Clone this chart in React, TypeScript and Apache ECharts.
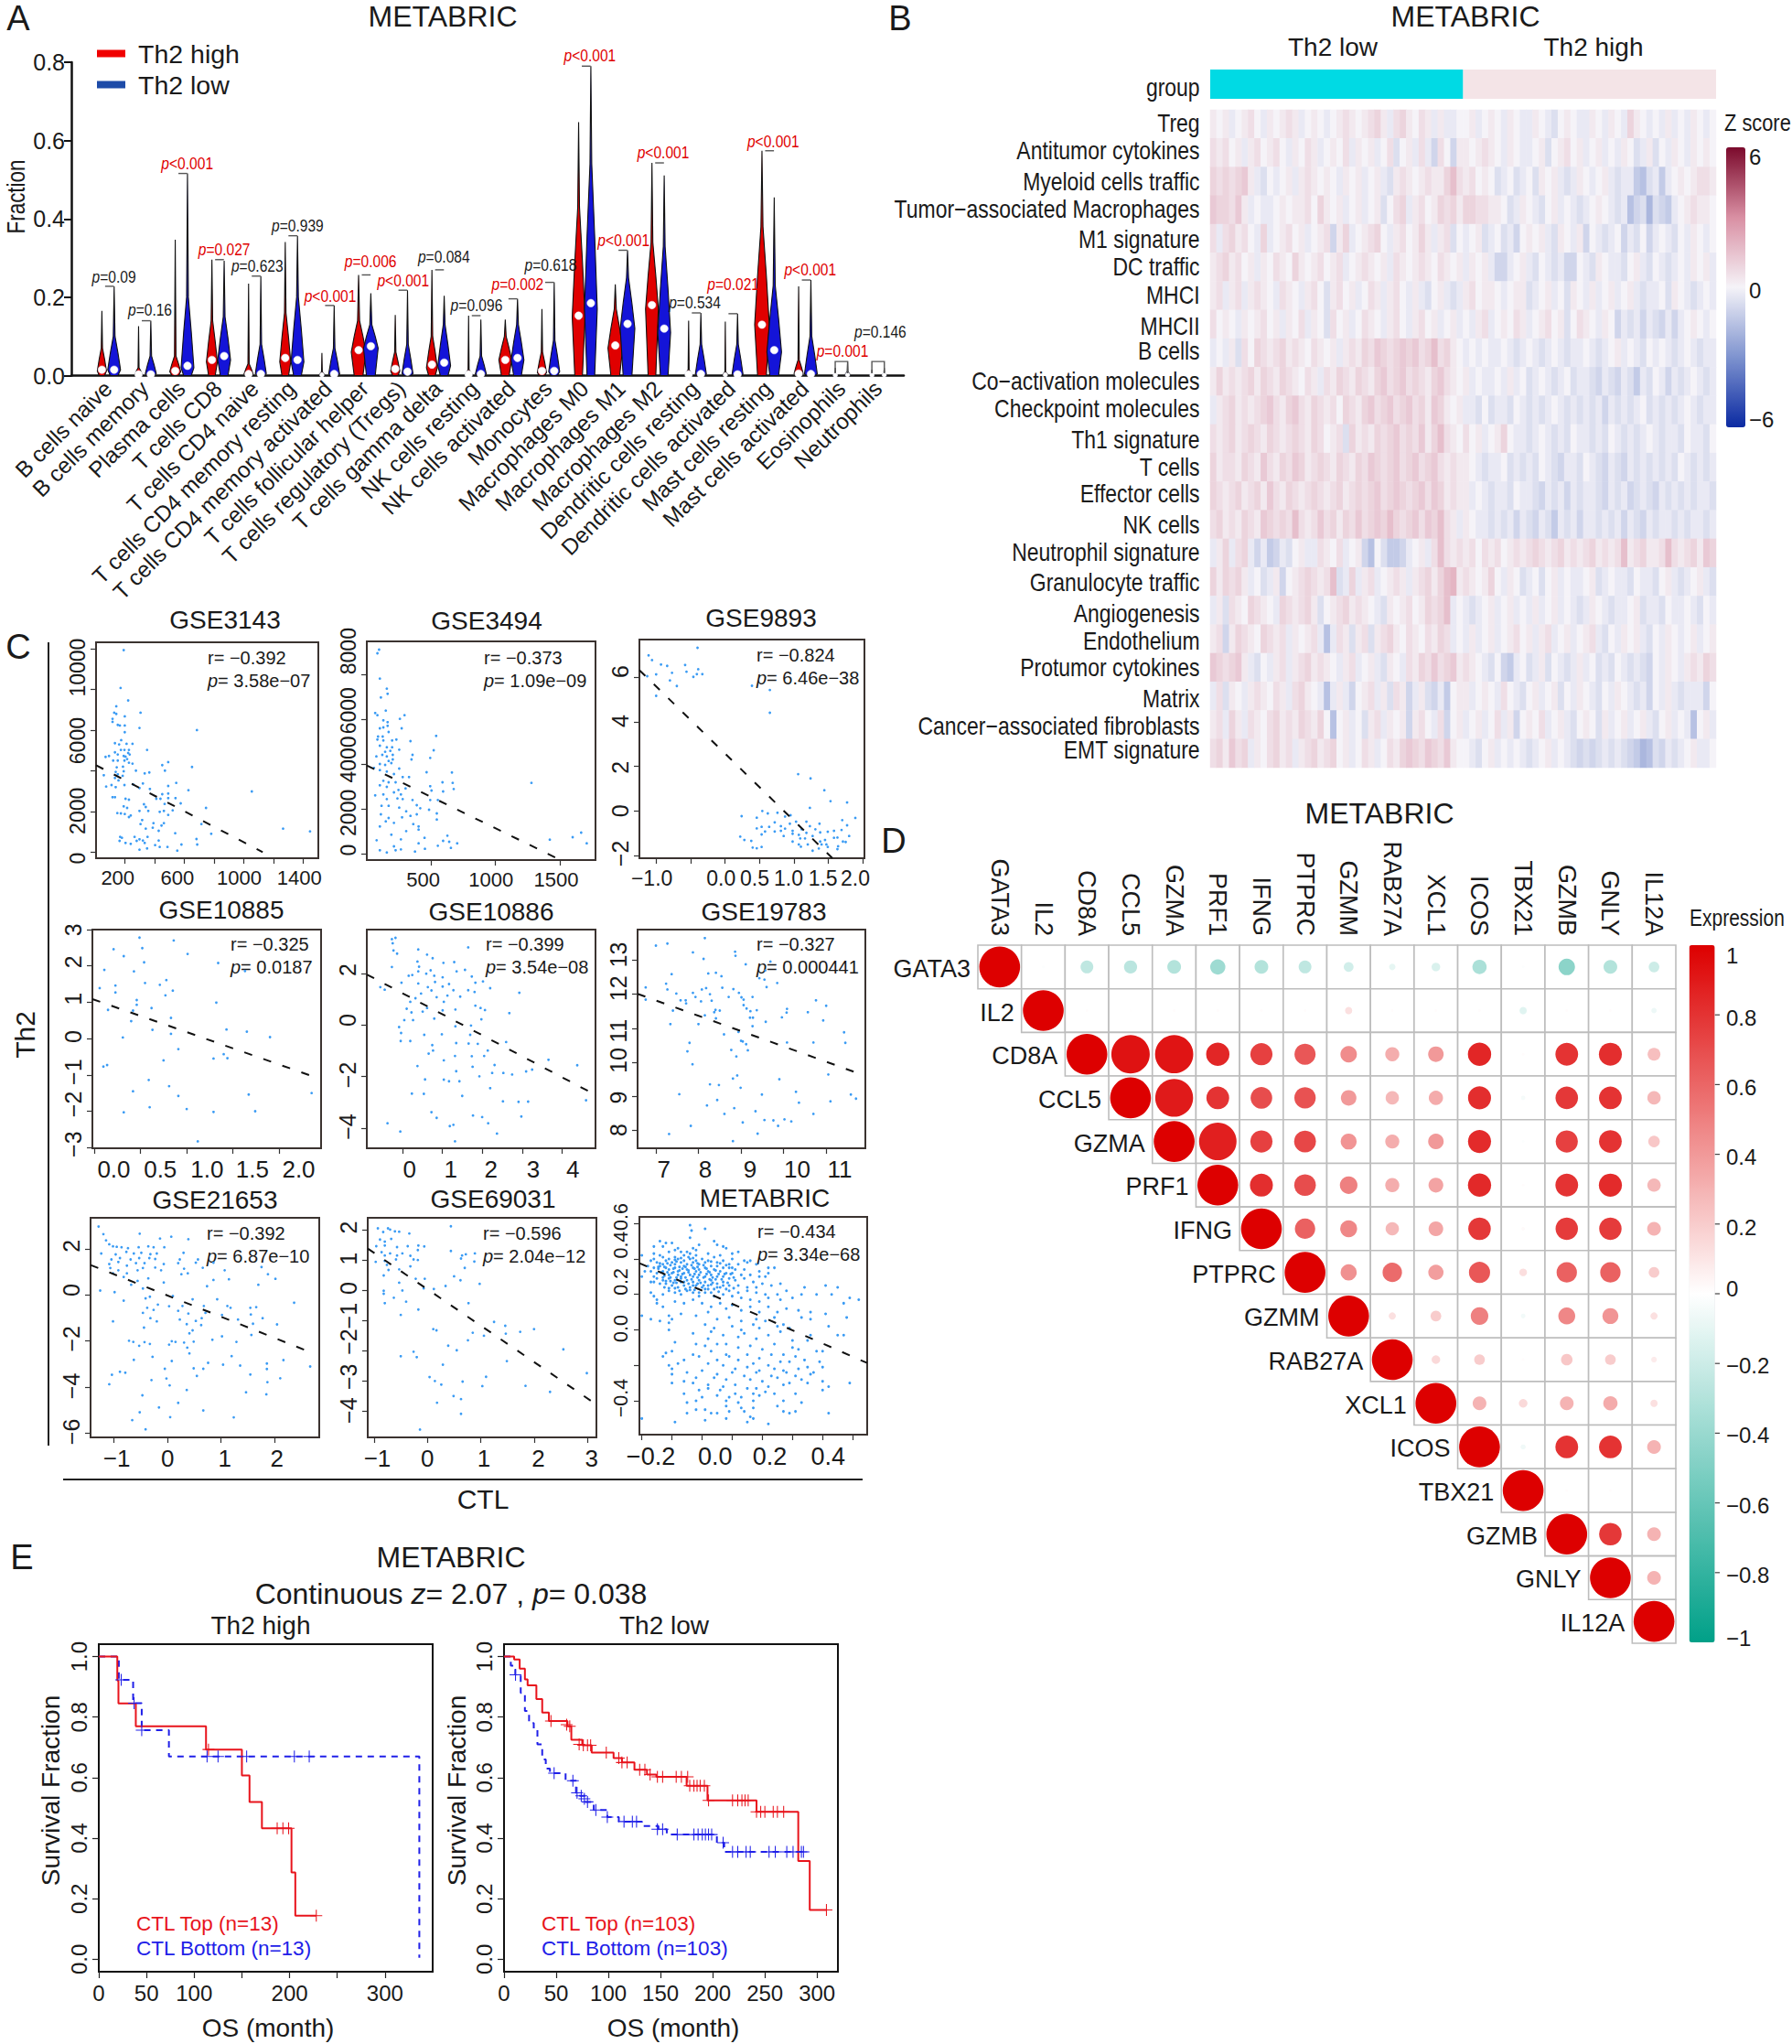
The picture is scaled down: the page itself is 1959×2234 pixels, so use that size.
import React, { useEffect, useRef } from "react";
import * as echarts from "echarts";

const SANS = '"Liberation Sans",Arial,sans-serif';

/* ---------- Panel A ---------- */
const cellTypes = ["B cells naive","B cells memory","Plasma cells","T cells CD8","T cells CD4 naive","T cells CD4 memory resting","T cells CD4 memory activated","T cells follicular helper","T cells regulatory (Tregs)","T cells gamma delta","NK cells resting","NK cells activated","Monocytes","Macrophages M0","Macrophages M1","Macrophages M2","Dendritic cells resting","Dendritic cells activated","Mast cells resting","Mast cells activated","Eosinophils","Neutrophils"];
// [top, taper, widest, half width, median]
const violinHigh = [[.165,.07,.012,5,.015],[.126,.02,.003,4,.003],[.347,.05,.01,6,.012],[.296,.14,.035,6,.04],[.235,.03,.004,5,.004],[.341,.16,.035,6,.045],[.058,.01,.001,3,.002],[.257,.14,.06,8,.065],[.155,.06,.012,5,.017],[.27,.1,.02,6,.028],[.153,.015,.002,4,.003],[.143,.1,.04,7,.04],[.17,.06,.008,5,.012],[.647,.43,.15,7,.153],[.233,.17,.07,8,.077],[.543,.34,.17,7,.18],[.14,.015,.002,4,.003],[.138,.01,.001,3,.002],[.574,.38,.13,8,.13],[.228,.04,.005,5,.005],[.02,.005,0,2,.001],[.015,.003,0,2,.001]];
const violinLow = [[.228,.1,.015,7,.015],[.14,.05,.005,6,.003],[.516,.2,.02,7,.025],[.293,.15,.04,7,.05],[.254,.08,.005,6,.004],[.357,.2,.035,7,.04],[.179,.07,.004,6,.004],[.21,.13,.07,8,.075],[.218,.08,.005,6,.01],[.204,.13,.025,7,.033],[.143,.05,.004,6,.004],[.196,.13,.04,7,.045],[.238,.09,.01,6,.012],[.79,.54,.17,7,.185],[.32,.25,.12,8,.132],[.511,.33,.11,7,.12],[.16,.08,.004,6,.004],[.158,.08,.003,6,.003],[.455,.23,.06,8,.065],[.244,.1,.004,7,.004],[.035,.01,.001,3,.002],[.02,.006,.001,3,.002]];
const pLabels: [number, number, string, number][] = [[.16,.252,"=0.09",0],[1.145,.168,"=0.16",0],[2.16,.543,"<0.001",1],[3.17,.322,"=0.027",1],[4.07,.281,"=0.623",0],[5.17,.383,"=0.939",0],[6.06,.204,"<0.001",1],[7.16,.293,"=0.006",1],[8.05,.244,"<0.001",1],[9.16,.303,"=0.084",0],[10.05,.179,"=0.096",0],[11.17,.233,"=0.002",1],[12.07,.283,"=0.618",0],[13.14,.817,"<0.001",1],[14.06,.347,"<0.001",1],[15.14,.569,"<0.001",1],[16,.186,"=0.534",0],[17.05,.233,"=0.021",1],[18.14,.599,"<0.001",1],[19.15,.272,"<0.001",1],[20.03,.063,"=0.001",1],[21.06,.112,"=0.146",0]];

/* ---------- Panel B (z x 3, 40 + 40 columns) ---------- */
const signatures = ["Treg","Antitumor cytokines","Myeloid cells traffic","Tumor\u2212associated Macrophages","M1 signature","DC traffic","MHCI","MHCII","B cells","Co\u2212activation molecules","Checkpoint molecules","Th1 signature","T cells","Effector cells","NK cells","Neutrophil signature","Granulocyte traffic","Angiogenesis","Endothelium","Protumor cytokines","Matrix","Cancer\u2212associated fibroblasts","EMT signature"];
const signatureLabelY = [134,164,198,228,261,291,322,356,383,416,446,480,510,539,573,603,636,670,700,729,763,793,819];
const zTreg = [1,0,1,-1,0,1,2,0,-1,1,0,1,2,1,-1,0,1,0,-1,0,1,2,1,0,1,2,3,1,-1,2,3,1,0,2,1,-1,1,-1,-1,0,0,1,-1,0,1,0,-1,1,0,-1,-1,1,0,-1,-2,0,1,0,-1,-1,1,0,-1,1,0,-1,3,1,0,-1,0,-1,1,-1,0,-1,1,0,-1,0];
const zAntitumor = [2,1,2,0,1,-1,1,2,0,1,2,0,-1,1,0,2,1,-1,0,1,0,2,-1,1,0,1,-1,0,2,-2,0,1,-1,2,-1,-3,2,0,-3,1,1,0,1,2,1,0,-1,1,0,-1,-1,0,1,-2,0,1,2,0,1,-1,0,1,-1,0,-1,1,0,-2,-1,1,-2,0,-1,1,0,-1,1,0,1,0];
const zMyeloid = [3,2,3,2,3,4,1,-1,-2,0,-1,0,1,-1,1,2,1,0,1,0,-1,1,0,1,-1,0,1,-1,-2,1,2,1,0,1,2,1,1,3,5,2,1,2,0,1,0,-2,-1,0,-2,-1,0,-2,1,0,1,-1,-2,-1,1,0,-1,0,1,-1,-2,-1,-1,-4,-5,-2,-1,-4,-1,0,1,0,1,2,2,1];
const zTAM = [4,3,3,2,4,1,-1,0,-1,-1,0,1,0,1,1,2,0,3,1,0,1,-1,0,1,-1,0,1,-2,0,2,3,-1,1,2,0,1,3,2,3,1,3,3,2,2,1,1,0,-2,-1,1,0,-1,-2,0,1,-1,0,-1,-2,-1,0,1,0,-1,-2,-1,-5,-3,-2,-6,-2,-3,-4,-1,0,1,2,1,1,0];
const zM1 = [2,-1,2,3,1,2,0,-1,3,-1,0,1,2,0,1,-1,0,1,2,-3,1,3,-1,0,1,2,3,0,-1,1,2,0,1,3,1,-1,1,2,-2,0,-1,0,1,-2,-1,0,-2,-1,-3,0,1,0,1,-1,-2,1,0,-1,1,-3,0,-1,-2,-1,0,-3,-1,-2,0,-3,-1,0,-1,-2,0,-1,1,0,-1,0];
const zDC = [1,2,3,1,2,0,1,-1,1,0,2,1,0,3,1,0,1,2,0,1,2,-1,0,1,2,1,0,1,-1,2,1,0,1,2,1,0,2,1,0,1,-1,1,0,1,-1,-3,-3,-1,0,1,-1,-2,0,-1,-2,-1,-3,-3,0,-1,-2,1,0,-1,-1,-2,0,1,-1,-2,0,-1,-2,-1,0,-1,1,0,1,-1];
const zMHCI = [1,2,-1,1,2,-1,1,2,1,0,-1,2,1,0,-1,1,2,0,-2,1,2,0,1,-1,0,2,1,-1,1,2,0,-1,1,-1,-2,0,1,-1,-2,-1,1,2,0,1,1,0,-1,0,1,1,-2,-1,0,1,-1,0,-2,1,0,-1,1,-1,0,1,-1,0,1,-1,-2,-1,-1,0,-2,1,0,-1,-2,-1,0,-1];
const zMHCII = [2,0,1,0,-1,1,0,1,2,0,1,-1,1,0,2,-1,1,0,-2,2,0,1,-1,0,2,1,0,-1,1,2,0,-1,1,2,0,1,-1,0,1,-1,0,-1,1,2,-1,0,1,0,2,1,-1,0,1,2,0,1,-2,0,2,1,0,-1,1,0,-3,-1,-2,-1,-3,-1,-2,-3,-1,-3,-1,0,1,0,-1,0];
const zBcells = [-1,0,-1,1,-2,2,0,3,2,1,2,3,1,2,1,0,2,1,0,1,-1,1,2,1,3,2,4,3,2,3,4,3,4,2,3,5,2,3,1,0,-1,0,-1,0,-1,-1,0,-1,-2,-1,0,-1,-2,-1,0,-1,-2,-1,-1,0,-1,-2,-1,0,1,-1,0,-1,-2,0,-1,0,-1,-2,-1,0,-1,-2,-1,-1];
const zCoact = [1,3,1,2,1,2,3,1,3,2,1,3,2,1,0,2,1,-1,2,1,3,2,1,3,2,1,3,4,2,3,4,2,3,2,1,3,4,2,1,0,1,-1,0,-1,-1,0,-1,1,-1,0,-2,-1,0,-1,-2,-1,0,-2,-1,-1,-2,-3,-1,-2,-3,-1,-2,-4,-1,-2,0,-1,-3,-1,-2,-1,0,-1,-2,-1];
const zCheck = [-1,1,2,3,1,2,1,2,3,4,2,1,3,4,2,1,3,2,1,2,0,3,2,1,3,4,2,3,4,2,3,4,2,3,1,4,3,1,0,1,-1,-1,-2,0,-2,-1,-1,-2,0,-1,-2,-1,-2,-1,0,-1,-2,-1,-2,-1,-2,-1,-3,-1,-2,-1,-2,-1,0,-2,-1,-2,-1,-2,-1,0,-1,-2,-1,-1];
const zTh1 = [2,1,2,3,1,2,3,2,1,3,2,1,2,3,2,1,3,2,0,1,2,-2,3,1,2,1,3,2,3,4,2,3,2,4,1,3,5,2,1,0,2,0,1,-1,0,1,3,0,-1,-1,-2,-1,0,-1,-2,-1,-2,0,-1,-1,-2,-1,-2,0,-1,-2,-1,-2,-1,0,-1,-2,-1,-1,-2,0,-1,-1,-2,0];
const zTcells = [3,1,2,2,1,3,2,1,4,2,1,3,2,4,3,1,2,3,2,1,3,2,1,3,2,4,3,2,3,4,2,3,4,2,3,4,2,1,2,1,1,0,-1,-2,-1,-1,0,-2,-1,-2,-1,-2,0,-1,-2,-3,-1,-1,-2,0,-1,-2,-3,-1,-2,-3,-1,-2,-1,-2,-1,-2,-1,-2,0,-1,-2,-1,-2,-1];
const zEffector = [3,2,1,2,3,1,2,3,1,4,2,1,3,2,1,2,3,2,1,2,3,1,2,3,2,3,4,2,3,4,3,2,3,4,2,4,3,1,2,1,1,-1,0,-1,-2,-1,-1,-2,0,-1,-1,-2,-3,-1,-2,-1,-3,-1,-2,-1,-1,-2,-3,-1,-2,-1,-3,-2,-1,-2,-3,-1,-2,-1,-2,-1,-2,-1,-1,-2];
const zNK = [2,3,1,2,1,3,2,1,4,3,2,3,2,5,2,1,2,4,2,3,1,3,2,4,2,3,4,3,5,3,2,3,4,2,4,3,5,2,1,-1,1,0,-1,-1,-2,-1,-2,-1,-3,-1,-2,-3,-1,-2,-4,-1,-2,-1,-3,-1,-1,-2,-1,-2,-1,-3,-1,-2,-3,-1,-2,-1,-1,-2,-1,-2,-1,-1,-2,-1];
const zNeutro = [-1,1,3,-1,2,3,-1,-3,-1,-4,-3,-1,-2,0,1,-1,-1,2,1,0,2,-1,0,1,-3,-5,0,-2,-4,-4,-3,-1,0,1,-1,2,5,2,1,2,1,2,0,2,1,2,0,1,2,1,2,3,2,1,2,3,1,2,1,2,3,1,2,1,2,5,1,2,3,1,1,2,5,2,1,2,3,1,4,3];
const zGranulo = [3,1,3,2,3,1,-1,0,-2,-1,1,-3,0,1,2,3,2,1,2,5,-2,-1,3,-1,1,2,-1,0,1,2,1,-1,1,2,3,1,3,5,6,1,2,1,0,1,3,0,-1,1,0,-2,-1,0,-2,0,1,-1,0,-1,-1,0,1,-2,-1,0,-1,-1,-2,0,-1,-1,-2,0,1,-1,-2,-1,0,1,-1,-2];
const zAngio = [-1,1,-2,2,1,0,3,2,1,0,-1,3,2,1,2,3,1,-2,0,1,2,3,1,2,1,0,-1,-2,1,0,1,2,0,1,3,2,3,5,-1,0,-1,-2,-1,0,1,-1,0,1,-1,0,-1,1,-1,0,1,-1,0,-1,-2,-1,1,0,-1,-2,-1,-1,0,1,-2,-1,-1,-2,0,-1,-1,0,-1,-2,0,-1];
const zEndo = [1,2,-3,1,3,2,1,0,3,2,1,2,-1,1,0,1,2,-1,-5,-1,2,1,-2,1,2,-2,1,2,3,1,0,2,1,0,2,1,3,2,-1,0,-1,1,-1,0,1,-1,0,1,2,0,1,-1,1,2,-1,0,1,-1,0,1,2,-1,-2,0,-1,1,0,1,-1,-2,0,-1,1,0,-1,0,1,-1,0,1];
const zProtumor = [4,3,2,3,4,1,-1,-2,0,-1,1,2,-1,1,2,3,1,2,1,0,-1,1,2,-1,0,1,-1,-2,1,0,-1,2,1,3,2,4,2,3,4,1,2,1,0,-1,-2,0,-3,-4,-1,0,-2,-1,1,-2,0,-1,-2,-1,1,-1,0,-2,-1,-2,0,-1,-2,-1,-2,-3,0,-1,1,0,-1,1,2,1,3,2];
const zMatrix = [-1,2,-2,1,0,-1,1,2,1,0,2,1,-1,2,3,1,0,-1,-5,-1,1,-1,-3,0,1,2,-1,1,-2,2,1,-3,-1,1,-2,-3,-1,-4,0,1,1,-1,0,1,0,-1,2,0,-1,-2,0,1,-1,0,1,-2,0,-1,1,0,-1,-2,0,-1,1,0,-1,-2,-1,-3,0,-1,1,-1,-2,-1,-1,-1,-3,0];
const zCAF = [1,2,-1,3,1,-1,2,1,0,2,3,1,2,1,3,2,1,3,0,-5,0,1,-1,0,-2,1,2,-1,1,0,1,-3,1,2,0,-1,2,-3,0,1,-1,0,1,-1,0,2,-1,1,-3,0,1,0,2,-1,0,1,-1,-2,0,1,0,-2,1,-1,0,1,-1,0,1,-1,-2,0,1,-1,0,-1,-5,0,1,-1];
const zEMT = [2,3,1,4,2,3,-1,1,0,2,3,1,2,-1,1,2,3,1,2,3,0,1,-1,0,2,1,-1,0,2,1,3,4,3,2,4,3,2,4,1,0,0,-1,-2,0,1,-1,0,-1,0,-1,-2,-1,0,1,-1,0,-1,-2,-3,-2,-3,-2,-1,-2,-1,-2,-3,-4,-6,-5,-2,-3,-1,-2,-1,0,1,-1,-1,0];
const zRows = [zTreg,zAntitumor,zMyeloid,zTAM,zM1,zDC,zMHCI,zMHCII,zBcells,zCoact,zCheck,zTh1,zTcells,zEffector,zNK,zNeutro,zGranulo,zAngio,zEndo,zProtumor,zMatrix,zCAF,zEMT];
const groupSizes = [40, 40];

/* ---------- Panel C (x,y pairs) ---------- */
const gse3143 = [193,9930,172,8070,223,7455,143,7170,306,6855,129,6855,143,6795,200,6675,118,6555,118,6405,153,6255,167,6225,200,6225,299,6105,200,5895,685,6000,176,5505,134,5355,162,5295,212,5325,252,5325,350,5025,174,5025,198,5025,228,5025,134,4905,153,4800,94,4725,71,4680,193,4725,205,4695,223,4875,233,4800,122,4500,153,4500,198,4500,216,4575,228,4395,252,4350,492,4425,452,4275,652,4185,146,4170,188,4200,275,4005,470,4005,139,3945,193,3975,59,3780,153,3825,334,3870,365,3915,134,3645,158,3525,186,3750,75,3225,111,3300,139,3195,198,3300,256,3330,322,3375,299,3150,546,3405,492,3255,369,3105,628,3045,1054,2985,118,2700,134,2700,205,2625,228,2580,452,2850,492,2880,440,2625,412,2625,492,2655,541,2655,576,2400,468,2370,329,2355,341,2220,193,2250,216,2175,299,2025,358,2025,435,1980,463,2025,492,1830,522,2055,746,2175,150,1920,174,1905,200,1875,240,1800,228,1725,317,1575,306,1380,393,1425,463,1425,447,1305,388,1200,341,1155,428,1050,715,1380,781,900,539,930,1264,1155,1445,1020,169,750,181,705,266,750,299,630,353,750,428,570,322,570,165,555,205,450,240,405,280,555,334,450,404,345,435,255,487,255,581,375,682,645,687,375,299,120,350,180,553,75];
const gse3494 = [99,9132,86,8968,105,7837,159,7388,165,7156,113,6992,151,6406,69,6298,86,6202,296,6202,260,6038,132,5970,165,5888,165,5725,105,5616,132,5657,274,5616,91,5248,127,5248,173,5452,541,5275,86,5111,132,5070,200,5070,233,5111,342,5043,105,4839,159,4770,200,4770,146,4566,186,4607,255,4661,522,4634,78,4361,124,4430,159,4361,205,4430,358,4430,173,4157,205,4225,495,4293,350,4225,105,4020,146,3980,194,4062,59,3844,105,3748,159,3680,214,3571,255,3816,467,3653,663,3639,132,3271,173,3203,105,3067,159,2999,227,3203,282,3435,331,3435,590,3203,669,3176,1279,3176,249,2862,304,2930,495,3026,677,2903,505,2835,595,2794,214,2753,132,2658,69,2617,268,2658,241,2481,554,2412,159,2453,282,2453,495,2412,358,2412,118,2153,173,2153,255,2072,391,2181,418,2044,486,1976,309,1908,546,1813,342,1704,391,1772,113,1772,173,1608,277,1636,546,1540,151,1458,214,1390,105,1227,364,1336,405,1227,194,859,309,1022,405,1090,628,818,1598,750,1664,954,1421,641,80,613,268,654,595,586,451,722,704,477,642,545,1707,477,405,477,554,368,214,341,105,164,159,68,227,164,268,204,377,109,454,232,655,273];
const gse9893 = [-.4,7.31,-1.11,6.97,-1.06,6.76,-.93,6.56,-.84,6.5,-.58,6.54,-.39,6.35,-.77,6.19,-.56,6.24,-1,6.12,-.41,6.13,-.33,6.13,-.46,6.01,-1.13,6.04,-.8,5.85,-.7,5.6,-1,5.16,.39,5.61,.65,5.42,.65,4.4,1.06,1.65,1.24,1.46,1.44,.93,1.53,.44,1.77,.38,1.23,.14,.54,0,.62,-.11,.76,-.08,.24,-.23,.46,-.3,1.89,-.31,.95,-.19,.87,-.25,1.03,-.48,1.18,-.48,1.7,-.41,1.37,-.57,.72,-.51,.53,-.71,.64,-.71,.94,-.57,1.23,-.68,1.77,-.64,.46,-.78,.81,-.68,.87,-.79,.58,-.92,.72,-.92,.81,-.89,.98,-.89,1.11,-.82,1.31,-.82,1.49,-.93,1.58,-.89,1.69,-.85,.53,-1.05,.85,-1.12,.98,-1.02,1.07,-1.07,1.18,-.98,1.38,-.96,.22,-1.15,1.8,-1.12,.28,-1.3,.38,-1.34,.98,-1.37,1.09,-1.23,1.16,-1.23,1.27,-1.12,1.38,-1.37,1.45,-1.3,1.58,-1.2,1.63,-1.19,1.71,-1.37,1.75,-1.39,1.07,-1.5,1.2,-1.5,1.4,-1.5,1.47,-1.5,1.1,-1.6,.4,-1.64,.46,-1.67,.53,-1.61,1.49,-1.61,1.64,-1.58,1.27,-1.78,1.36,-1.68,1.63,-1.71];
const gse10885 = [.49,2.78,.86,2.7,.21,2.46,.52,2.49,1.01,2.33,.32,2.27,.54,2.1,1.34,2.08,.11,1.89,.43,1.85,1.63,1.86,.55,1.53,.78,1.61,.71,1.48,.23,1.46,.06,1.39,.85,1.32,.23,1.27,.77,1.19,.46,1.06,1.32,.99,.46,.93,.62,.84,.15,.79,.42,.77,.4,.48,.83,.57,.63,.24,1.43,.25,1.65,.19,.83,.13,.31,.03,1.9,.04,.91,-.29,1.29,-.55,1.4,-.43,1.44,-.54,.75,-.6,.1,-.77,.14,-.73,.59,-1.14,.81,-1.31,.42,-1.45,2.35,-1.5,1.67,-1.54,.91,-1.58,.6,-1.89,1,-1.94,.32,-2.03,1.29,-2.02,1.74,-2,1.12,-2.83];
const gse10886 = [-.17,3.38,-.26,3.33,-.24,3.17,-.22,2.89,-.13,2.77,.4,2.93,1.65,3.01,.62,2.73,.76,2.59,.38,2.46,1.03,2.41,1.3,2.44,-.26,2.25,.42,2.26,.4,2.08,.71,2.12,1.57,2.14,1.36,2.08,.6,1.99,.8,1.91,.16,1.91,.25,1.94,1.01,1.85,1.74,1.88,2.02,1.69,1.83,1.64,-.02,1.64,.4,1.61,.82,1.67,1.17,1.59,.64,1.47,1.01,1.49,-.55,1.47,2.2,1.43,.73,1.34,1.28,1.35,1.65,1.35,1.81,1.28,2.93,1.25,-.44,1.37,.47,1.22,.86,1.08,1.45,1.1,1.13,1.14,.33,1.04,.2,.9,1.04,.9,1.83,.75,.11,.63,.62,.66,1.33,.6,1.96,.66,2.07,.58,.23,.49,.51,.52,2.68,.46,1.01,.57,.05,.19,.27,.19,.8,.25,1.98,.22,-.08,-.08,1.33,-.05,1.72,-.02,-.03,-.31,.55,-.38,.99,-.36,1.7,-.38,-.04,-.62,.2,-.62,2.6,-.66,1.35,-.7,1.66,-.72,.75,-.78,1.89,-.73,.77,-.99,2.14,-.99,.66,-1.11,1.32,-1.2,1.74,-1.21,2.05,-1.2,3.66,-1.35,1.04,-1.37,.38,-1.59,4.38,-1.56,2.31,-1.55,1.76,-1.62,3.25,-1.73,3.1,-1.8,1.35,-1.79,2.25,-1.86,2.53,-1.86,2.75,-1.92,1.93,-1.99,.57,-2.11,1.04,-2.12,1.17,-2.18,1.43,-2.18,.24,-2.66,.54,-2.67,1.5,-2.75,2.2,-2.45,2.52,-2.96,2.91,-2.98,3.15,-2.97,4.6,-2.92,.73,-3.38,.86,-3.6,1.77,-3.51,2,-3.57,2.98,-3.55,2.15,-3.81,-.37,-3.81,1.19,-3.92,1.28,-3.87,-.05,-4.13,2.37,-4.21,1.32,-4.51];
const gse19783 = [7,13.43,7.27,13.49,8.15,13.65,7.87,13.23,8.86,13.25,8.87,13.13,8.12,13.04,9.11,12.88,9.69,12.96,7.37,12.59,8.23,12.61,8.41,12.63,8.54,12.53,9.57,12.7,9.43,12.47,9.55,12.43,7.24,12.31,9.85,12.33,6.76,12.2,7.27,12.14,8.18,12.18,8.08,12.14,8.56,12.19,9.6,12.21,8.82,12.15,7.48,12.02,7.87,12.04,8.27,12,8.95,12.04,7.93,11.92,8.71,11.92,9.01,11.91,9.27,11.92,6.76,11.84,7.58,11.82,7.7,11.82,8.06,11.79,8.31,11.81,9.06,11.84,10.76,11.82,7.71,11.73,9.06,11.68,11,11.66,9.13,11.58,10.08,11.57,7.4,11.52,8.4,11.54,8.5,11.52,9.37,11.53,9.22,11.5,8.37,11.47,10.07,11.46,10.57,11.47,8.15,11.38,8.41,11.29,9.21,11.31,9.28,11.31,9.96,11.32,10.93,11.23,9.58,11.19,7.34,11.12,8,11.12,9.27,11.06,8.6,10.82,8.94,10.89,11.42,10.88,9,10.63,9.04,10.61,7.79,10.57,10.08,10.58,10.7,10.58,11.45,10.57,9.12,10.53,8.77,10.36,9.16,10.35,7.74,10.32,8.89,10.17,7.86,9.94,11.05,9.64,8.91,9.61,8.81,9.52,9.9,9.5,8.27,9.35,8.48,9.33,8.99,9.25,10.29,9.13,7.55,9.06,9.49,9.05,11.58,9.05,11.7,8.93,8.44,8.89,11.1,8.85,10.36,8.81,8.2,8.73,8.84,8.65,9.34,8.56,8.61,8.48,10.7,8.48,9.55,8.3,9.76,8.29,10.02,8.32,9.04,8.23,10.18,8.26,7.82,8.13,9.87,8.13,7.31,7.89,9.39,7.9,8.81,7.68];
const gse21653 = [-1.29,2.97,-1.2,2.64,-.52,2.66,-1.15,2.37,.07,2.53,-.14,2.45,.39,2.42,-1.09,2.2,-1.02,2.11,-.95,2.09,-.86,2.07,-.74,2.03,-.54,2.07,-.36,2.11,-.26,2.07,-.06,2.07,-1.24,1.8,-.97,1.76,-.77,1.87,-.63,1.8,-.49,1.83,-.32,1.77,-.2,1.8,.3,1.83,-1.05,1.54,-.89,1.6,-.69,1.54,-.53,1.6,-.34,1.6,-.23,1.56,.23,1.54,.57,1.54,-1.09,1.34,-.92,1.43,-.76,1.27,-.59,1.38,-.43,1.38,-.07,1.34,.2,1.38,.53,1.4,.86,1.4,-1.07,1.17,-.92,1.07,-.56,1.07,-.46,1.17,-.23,1.19,-.12,1.07,.31,1.14,.66,1.18,1.07,1.07,1.76,1.21,-1.02,.94,-.76,.94,.26,.9,.38,.94,1.88,.9,-.82,.78,-.36,.72,1.15,.68,2.02,.7,.86,.65,-.56,.61,-.07,.54,-.68,.44,.74,.38,-.46,.28,1.7,.44,-1.26,.19,-.99,.12,-.33,-.08,-.41,-.15,-.82,-.25,.1,-.05,.47,-.19,.93,-.19,2.37,-.34,-.18,-.42,-.38,-.56,.03,-.49,.28,-.48,.68,-.48,1.12,-.48,1.18,-.56,1.55,-.56,1.66,-.53,-.26,-.65,-.46,-.78,.2,-.69,.39,-.81,.71,-.78,1.02,-.87,1.56,-.85,-.32,-1.01,.23,-1.07,1.78,-1.01,-1.02,-1.15,-.2,-1.15,.53,-1.13,.64,-1.01,1.32,-1.07,.36,-1.27,.63,-1.31,2.05,-1.28,1.6,-1.25,-.44,-1.42,.47,-1.54,1.57,-1.74,.41,-1.67,1.02,-1.8,-.72,-1.99,-.64,-2.04,-.43,-2.05,-.33,-2.13,.08,-2.01,.15,-2.04,.31,-2.07,.49,-2.03,.84,-1.95,1.29,-2.04,.03,-2.16,-.53,-2.21,.37,-2.29,.41,-2.54,1.2,-2.66,-.28,-2.69,-.63,-2.82,.08,-2.87,2.17,-2.83,.76,-2.95,1.86,-2.98,1.04,-3.03,1.36,-3.07,2.67,-3.11,1.86,-3.22,-.05,-3.21,.49,-3.19,.67,-3.21,-.89,-3.34,-.79,-3.38,-1.04,-3.47,1.55,-3.46,.55,-3.52,-.02,-3.63,2.11,-3.62,-.3,-3.7,1.87,-3.79,-1.09,-3.88,.04,-3.93,.36,-4.13,1.47,-4.23,-.47,-4.36,1.85,-4.32,.2,-4.69,-.16,-4.89,.67,-5.02,-.52,-5.1,.05,-5.31,1.24,-5.32,-.66,-5.44,-.41,-5.84];
const gse69031 = [-.93,2.05,-.74,2.05,-.7,2.01,-.61,1.95,-.53,1.94,.44,2.12,-.83,1.93,-.34,1.88,-.89,1.68,-.68,1.7,-.8,1.61,-.96,1.46,-.8,1.48,-.57,1.43,-.37,1.46,-.17,1.48,-.06,1.45,-.18,1.33,-.86,1.26,-.7,1.22,-.47,1.22,.44,1.3,.89,1.22,.72,1.19,-.8,1.15,-.57,1.15,-.32,1.14,.65,1.15,.63,1.05,-.97,.94,-.8,.97,-.59,1.02,-.26,1.02,-.18,1,.88,.95,-.76,.84,-.32,.79,.7,.74,-.73,.67,-.53,.69,-.82,.49,.5,.46,-.22,.38,-.05,.38,.62,.33,-.53,.25,.98,.21,.34,.14,-.07,.06,.12,.04,-.47,-.01,-.82,-.02,-.82,-.12,-.63,-.25,-.4,-.38,-.8,-.43,.77,-.43,-.17,-.64,-.5,-.82,1.25,-1.05,1.46,-1.18,.11,-1.29,.17,-1.33,1.74,-1.38,2,-1.29,.85,-1.41,1.47,-1.44,1.06,-1.51,.76,-1.66,.39,-1.84,.55,-1.99,2.55,-1.96,-.26,-2.04,-.5,-2.19,-.2,-2.22,1.49,-2.35,.29,-2.47,2.99,-2.75,.04,-2.88,1.1,-2.87,.14,-3.01,.66,-3.03,.26,-3.13,1.03,-3.18,1.84,-3.17,2.3,-3.37,.49,-3.51,.63,-3.61,.18,-3.73,.63,-4.1,-.14,-4.62];
const metabric = [-.04,.59,-.035,.56,.01,.57,-.04,.52,-.14,.5,-.12,.49,-.1,.49,.04,.5,-.01,.48,.05,.48,.07,.47,-.16,.47,-.13,.47,-.08,.46,-.03,.46,-.02,.45,.08,.46,.12,.44,.1,.43,-.11,.44,-.09,.45,-.07,.44,-.05,.44,-.16,.43,-.14,.42,-.06,.42,-.04,.43,-.02,.42,.02,.43,.04,.41,.06,.42,.1,.4,.14,.39,.16,.39,-.2,.42,-.16,.4,-.13,.41,-.11,.4,-.09,.41,-.08,.4,-.06,.39,-.04,.4,-.02,.39,0,.4,.02,.39,.05,.38,.07,.39,.09,.37,.12,.37,.15,.38,.18,.37,.22,.35,.24,.35,-.17,.39,-.15,.38,-.13,.37,-.12,.39,-.1,.38,-.09,.37,-.07,.38,-.05,.37,-.03,.38,-.01,.37,.01,.38,.03,.36,.05,.36,.07,.35,.09,.35,.11,.34,.14,.34,.19,.33,.22,.32,-.18,.36,-.16,.35,-.14,.36,-.12,.35,-.11,.34,-.09,.35,-.08,.33,-.06,.36,-.05,.34,-.03,.35,-.02,.33,-.01,.34,.01,.35,.02,.33,.04,.34,.06,.33,.08,.32,.1,.32,.13,.31,.16,.31,.19,.3,.21,.3,-.19,.33,-.17,.33,-.15,.32,-.13,.33,-.11,.31,-.1,.32,-.08,.31,-.07,.3,-.06,.32,-.04,.31,-.03,.3,-.01,.31,.01,.3,.03,.31,.05,.3,.07,.3,.09,.29,.11,.28,.14,.29,.17,.27,.2,.26,.23,.25,.26,.26,-.2,.3,-.16,.3,-.15,.29,-.13,.28,-.11,.29,-.09,.28,-.07,.27,-.05,.28,-.03,.27,-.01,.28,.01,.27,.03,.28,.05,.26,.07,.27,.09,.25,.12,.25,.15,.24,.18,.24,-.17,.27,-.12,.26,-.1,.25,-.08,.24,-.06,.25,-.04,.24,-.02,.25,0,.24,.02,.25,.04,.23,.06,.24,.09,.22,.12,.21,.15,.22,.18,.21,.21,.2,.25,.2,.28,.22,.34,.24,.41,.25,.45,.24,-.17,.21,-.16,.19,-.15,.17,-.13,.2,-.11,.22,-.09,.21,-.07,.2,-.05,.22,-.03,.21,-.01,.19,.01,.21,.04,.19,.07,.2,.1,.19,.13,.18,.16,.17,.19,.16,.22,.18,.26,.17,.3,.18,.33,.2,.38,.2,.43,.2,.47,.15,.49,.18,.52,.17,-.15,.15,-.13,.13,-.09,.16,-.06,.15,-.03,.17,0,.15,.03,.13,.06,.15,.08,.12,.1,.14,.13,.11,.16,.13,.19,.1,.22,.13,.25,.1,.28,.12,.32,.11,.36,.1,-.2,.08,-.17,.06,-.11,.08,-.07,.09,-.02,.08,.02,.1,.05,.06,.09,.07,.13,.05,.18,.06,.21,.05,.24,.07,.27,.03,.33,.07,.36,.06,.41,.09,.48,.07,-.14,.05,-.11,.04,-.1,.06,.01,.03,.04,.01,.1,.02,.13,0,.17,.03,.19,.01,.25,.02,.29,.01,.42,.02,-.11,0,.03,-.01,.07,-.03,.12,-.04,.14,-.02,.18,-.05,.22,-.03,.3,-.06,.26,-.01,.36,-.03,.45,-.03,.47,-.03,-.03,-.02,.02,-.05,-.09,-.07,.01,-.09,.05,-.08,.08,-.08,.12,-.1,.16,-.09,.2,-.11,.24,-.08,.3,-.1,.35,-.06,.32,-.11,.38,-.12,-.02,-.08,-.1,-.12,-.12,-.13,-.03,-.14,.03,-.12,.08,-.14,.15,-.14,.19,-.16,.23,-.14,.27,-.14,.31,-.15,.34,-.17,.4,-.12,-.13,-.15,-.06,-.17,-.01,-.15,.05,-.17,.09,-.15,.12,-.17,.17,-.19,.22,-.2,.26,-.18,.29,-.18,.35,-.21,.39,-.18,-.08,-.19,.02,-.19,.07,-.2,.11,-.22,.15,-.21,.19,-.23,.24,-.22,.28,-.24,.32,-.22,.37,-.24,.4,-.21,-.11,-.2,-.1,-.22,-.05,-.24,0,-.23,.05,-.25,.1,-.24,.14,-.26,.18,-.24,.23,-.26,.27,-.23,.31,-.26,.36,-.25,-.27,-.2,-.27,-.22,-.1,-.25,-.02,-.27,.04,-.27,.08,-.28,.16,-.28,.2,-.29,.25,-.27,.29,-.3,.33,-.28,-.1,-.3,-.06,-.29,-.03,-.3,.02,-.31,.07,-.32,.11,-.31,.15,-.33,.18,-.33,.22,-.32,.27,-.31,.35,-.3,.4,-.29,.49,-.3,-.01,-.34,.02,-.33,.06,-.34,.11,-.36,.17,-.36,.21,-.35,.24,-.36,.31,-.36,.4,-.34,.42,-.32,-.06,-.36,0,-.38,.05,-.37,.09,-.38,.13,-.38,.19,-.37,-.02,-.4,.08,-.4,.12,-.41,.17,-.4,.27,-.4,.33,-.41,-.05,-.41,.08,-.43,.13,-.44,.25,-.43,-.26,-.42,-.02,-.45,.01,-.45,.03,-.47,.09,-.46,.14,-.46,.17,-.44,.31,-.46,.42,-.47,-.05,-.47,.05,-.47,.27,-.46,.29,-.47,-.2,-.5,.08,-.5,.16,-.49,.17,-.5,.01,-.51,-.09,-.52,.15,-.52,.22,-.53,-.27,-.55,-.14,.375,-.125,.355,-.105,.365,-.095,.345,-.085,.385,-.075,.355,-.065,.345,-.055,.355,-.045,.335,-.035,.365,-.025,.345,-.015,.355,-.005,.325,.005,.365,.015,.345,.025,.325,.035,.295,.045,.335,-.145,.345,-.135,.325,-.125,.305,-.115,.325,-.105,.295,-.095,.325,-.085,.295,-.075,.335,-.065,.315,-.055,.295,-.045,.325,-.035,.285,-.025,.315,-.015,.295,-.005,.265,.005,.295,.015,.315,.025,.285,.035,.265,.045,.285,.055,.315,.065,.285,.075,.315,.085,.265,.095,.315,.105,.295,-.13,.295,-.12,.275,-.105,.275,-.095,.265,-.085,.265,-.07,.29,-.06,.27,-.045,.26,-.03,.25,-.015,.26,.005,.25,.02,.23,.03,.255,.05,.24,.07,.25,-.16,.27,-.14,.26,-.125,.24,-.11,.235,-.09,.235,-.075,.22,-.055,.23,-.04,.225,-.025,.225,-.01,.21,.01,.23,.03,.21,.055,.215,.08,.23,.105,.235,-.145,.355,-.115,.375,-.09,.395,-.07,.405,-.045,.41,-.03,.405,-.015,.375,.03,.385,.06,.375,.08,.365,.1,.35];

type Axes = { title: string; tx: number; ty: number; frame: number[]; xr: number[]; yr: number[]; xTicks: number[]; yTicks: number[]; xLabs: [number, string][]; yLabs: [number, string][]; pts: number[]; line: number[]; r: string; p: string; ax: number; ay: number; xFont: number; yFont: number; dot: number };
const M = "\u2212";
const scatterPanels: Axes[] = [
  { title:"GSE3143", tx:246, ty:677, frame:[105,702,348,938], xr:[7,1501], yr:[-300,10315], xTicks:[200,400,600,800,1000,1200,1400], yTicks:[0,2000,4000,6000,8000,10000], xLabs:[[153,"200"],[553,"600"],[969,"1000"],[1374,"1400"]], yLabs:[[9075,"10000"],[5475,"6000"],[2025,"2000"],[-300,"0"]], pts:gse3143, line:[7,4273,1127,0], r:`${M}0.392`, p:`3.58e${M}07`, ax:227, ay:719, xFont:22, yFont:23, dot:2.8 },
  { title:"GSE3494", tx:532, ty:678, frame:[401,701,651,940], xr:[4,1775], yr:[-272,9499], xTicks:[500,1000,1500], yTicks:[0,2000,4000,6000,8000], xLabs:[[440,"500"],[965,"1000"],[1470,"1500"]], yLabs:[[177,"0"],[1840,"2000"],[4225,"4000"],[6405,"6000"],[9064,"8000"]], pts:gse3494, line:[4,3952,1481,-204], r:`${M}0.373`, p:`1.09e${M}09`, ax:529, ay:719, xFont:22, yFont:23, dot:2.8 },
  { title:"GSE9893", tx:832, ty:675, frame:[699,699,945,938], xr:[-1.243,2.022], yr:[-2.117,7.68], xTicks:[-1,-.5,0,.5,1,1.5,2], yTicks:[-2,0,2,4,6], xLabs:[[-1.062,`${M}1.0`],[-.058,"0.0"],[.43,"0.5"],[.92,"1.0"],[1.42,"1.5"],[1.89,"2.0"]], yLabs:[[6.24,"6"],[4.03,"4"],[1.95,"2"],[0,"0"],[-1.91,`${M}2`]], pts:gse9893, line:[-1.243,6.31,1.558,-2.117], r:`${M}0.824`, p:`6.46e${M}38`, ax:827, ay:716, xFont:23, yFont:25, dot:2.8 },
  { title:"GSE10885", tx:242, ty:994, frame:[101,1016,351,1255], xr:[-.019,2.452], yr:[-3.02,3], xTicks:[0,.5,1,1.5,2], yTicks:[-3,-2,-1,0,1,2,3], xLabs:[[.213,"0.0"],[.715,"0.5"],[1.22,"1.0"],[1.71,"1.5"],[2.21,"2.0"]], yLabs:[[2.99,"3"],[2.11,"2"],[1.09,"1"],[.05,"0"],[-.92,`${M}1`],[-1.81,`${M}2`],[-2.91,`${M}3`]], pts:gse10885, line:[-.019,1.087,2.369,-1.045], r:`${M}0.325`, p:"0.0187", ax:252, ay:1032, xFont:26, yFont:25, dot:2.8 },
  { title:"GSE10886", tx:537, ty:996, frame:[401,1016,651,1255], xr:[-.888,4.837], yr:[-4.78,3.7], xTicks:[0,1,2,3,4], yTicks:[-4,-2,0,2], xLabs:[[.185,"0"],[1.21,"1"],[2.22,"2"],[3.28,"3"],[4.27,"4"]], yLabs:[[2.14,"2"],[.19,"0"],[-1.94,`${M}2`],[-3.95,`${M}4`]], pts:gse10886, line:[-.888,1.96,4.837,-2.71], r:`${M}0.399`, p:`3.54e${M}08`, ax:531, ay:1032, xFont:26, yFont:25, dot:2.8 },
  { title:"GSE19783", tx:835, ty:996, frame:[697,1016,946,1255], xr:[6.57,11.92], yr:[7.47,13.9], xTicks:[7,8,9,10,11], yTicks:[8,9,10,11,12,13], xLabs:[[7.19,"7"],[8.16,"8"],[9.21,"9"],[10.32,"10"],[11.32,"11"]], yLabs:[[13.16,"13"],[12.17,"12"],[10.92,"11"],[10.05,"10"],[8.96,"9"],[8.01,"8"]], pts:gse19783, line:[6.57,12.01,11.74,9.68], r:`${M}0.327`, p:"0.000441", ax:827, ay:1032, xFont:26, yFont:25, dot:2.8 },
  { title:"GSE21653", tx:235, ty:1311, frame:[99,1331,349,1571], xr:[-1.44,2.84], yr:[-6.19,3.35], xTicks:[-1,0,1,2], yTicks:[-6,-4,-2,0,2], xLabs:[[-.95,`${M}1`],[0,"0"],[1.07,"1"],[2.05,"2"]], yLabs:[[2.13,"2"],[.21,"0"],[-1.91,`${M}2`],[-3.96,`${M}4`],[-5.95,`${M}6`]], pts:gse21653, line:[-1.44,1.3,2.645,-2.46], r:`${M}0.392`, p:`6.87e${M}10`, ax:226, ay:1348, xFont:26, yFont:25, dot:2.8 },
  { title:"GSE69031", tx:539, ty:1310, frame:[402,1331,652,1571], xr:[-1.12,3.17], yr:[-4.88,2.4], xTicks:[-1,0,1,2,3], yTicks:[-4,-3,-2,-1,0,1,2], xLabs:[[-.94,`${M}1`],[0,"0"],[1.06,"1"],[2.08,"2"],[3.08,"3"]], yLabs:[[2.08,"2"],[1.04,"1"],[.06,"0"],[-.85,`${M}1`],[-1.71,`${M}2`],[-2.87,`${M}3`],[-3.99,`${M}4`]], pts:gse69031, line:[-1.12,1.38,3.17,-3.79], r:`${M}0.596`, p:`2.04e${M}12`, ax:528, ay:1348, xFont:26, yFont:25, dot:2.8 },
  { title:"METABRIC", tx:836, ty:1309, frame:[699,1330,948,1568], xr:[-.208,.548], yr:[-.591,.637], xTicks:[-.2,-.1,0,.1,.2,.3,.4,.5], yTicks:[-.4,-.2,0,.2,.4,.6], xLabs:[[-.17,`${M}0.2`],[.043,"0.0"],[.225,"0.2"],[.418,"0.4"]], yLabs:[[.637,"0.6"],[.479,"0.4"],[.271,"0.2"],[.007,"0.0"],[-.385,`${M}0.4`]], pts:metabric, line:[-.208,.376,.548,-.187], r:`${M}0.434`, p:`3.34e${M}68`, ax:828, ay:1346, xFont:27, yFont:21.5, dot:3 },
];

/* ---------- Panel D ---------- */
const genes = ["GATA3","IL2","CD8A","CCL5","GZMA","PRF1","IFNG","PTPRC","GZMM","RAB27A","XCL1","ICOS","TBX21","GZMB","GNLY","IL12A"];
const corrGATA3 = [1,-.01,-.25,-.27,-.3,-.38,-.3,-.25,-.18,-.1,-.15,-.33,-.01,-.45,-.3,-.2];
const corrIL2 = [1,.01,.005,.01,.01,.01,.01,.12,.01,.01,.01,-.12,.01,.01,-.07];
const corrCD8A = [1,.93,.92,.85,.75,.66,.45,.32,.4,.85,.01,.8,.82,.25];
const corrCCL5 = [1,.9,.8,.7,.68,.4,.28,.33,.82,-.04,.78,.8,.28];
const corrGZMA = [1,.88,.75,.72,.42,.32,.4,.83,-.01,.75,.8,.22];
const corrPRF1 = [1,.82,.7,.5,.32,.36,.84,.01,.8,.83,.28];
const corrIFNG = [1,.62,.47,.28,.35,.78,.02,.77,.77,.3];
const corrPTPRC = [1,.43,.58,.38,.66,.13,.62,.62,.2];
const corrGZMM = [1,.12,.2,.5,-.05,.47,.42,.12];
const corrRAB27A = [1,.15,.2,.01,.22,.2,.08];
const corrXCL1 = [1,.3,.15,.3,.33,.12];
const corrICOS = [1,-.06,.8,.8,.3];
const corrTBX21 = [1,.01,.01,.005];
const corrGZMB = [1,.78,.3];
const corrGNLY = [1,.3];
const corrIL12A = [1];
const corrRows = [corrGATA3,corrIL2,corrCD8A,corrCCL5,corrGZMA,corrPRF1,corrIFNG,corrPTPRC,corrGZMM,corrRAB27A,corrXCL1,corrICOS,corrTBX21,corrGZMB,corrGNLY,corrIL12A];
const corrBarTicks = [1,.8,.6,.4,.2,0,-.2,-.4,-.6,-.8,-1];

/* ---------- Panel E ---------- */
const kmHighTop = [[0,1],[19.4,.921],[20.6,.845],[38.8,.77],[112.4,.693],[150,.607],[158,.52],[171,.433],[202,.287],[206,.144],[228,.144]];
const kmHighBottom = [[0,1],[21,.923],[36,.846],[45,.757],[73.5,.67],[336,.005]];
const kmHighTopCens = [[115,.693],[187,.433],[193,.433],[199,.433],[228,.144]];
const kmHighBottomCens = [[23.5,.923],[37,.846],[45,.757],[113.5,.67],[125,.67],[155,.67],[205,.67],[220.6,.67]];
const kmLowTop = [[0,1],[9.7,.99],[15,.96],[20,.925],[22.6,.905],[31,.86],[36.6,.815],[43,.787],[60.8,.77],[64.5,.725],[75,.707],[84,.683],[105,.665],[113,.65],[125,.626],[137,.61],[146,.603],[175,.573],[195,.525],[242,.487],[282,.325],[293,.163],[309,.163]];
const kmLowBottom = [[0,1],[6.5,.97],[10.8,.94],[16,.88],[20,.82],[24,.78],[28.5,.76],[32,.71],[36.6,.66],[40,.63],[44,.615],[59,.59],[69,.55],[72.6,.54],[78,.52],[86,.493],[99,.47],[110,.455],[132,.44],[148,.43],[156,.412],[204,.385],[211,.355],[287.6,.355]];
const kmLowTopCens = [[45,.787],[60,.775],[63,.77],[72,.71],[76,.707],[80,.707],[83,.707],[98,.683],[110,.665],[113,.65],[118,.65],[130,.626],[135,.626],[140,.61],[147,.603],[152,.603],[165,.603],[170,.603],[176,.603],[178,.573],[182,.573],[185,.573],[188,.573],[192,.573],[196,.525],[219,.525],[224,.525],[228,.525],[231,.525],[234,.525],[242,.487],[246,.487],[250,.487],[258,.487],[262,.487],[268,.487],[309,.163]];
const kmLowBottomCens = [[11,.94],[48,.615],[66,.59],[70,.55],[74,.54],[77,.53],[80,.52],[88,.493],[99,.47],[115,.455],[123,.455],[127,.455],[147,.43],[152,.43],[166,.412],[182,.412],[186,.412],[190,.412],[193,.412],[196,.412],[199,.412],[210,.385],[219,.355],[224,.355],[232,.355],[236,.355],[254,.355],[260,.355],[271,.355],[277,.355],[285,.355],[287,.355]];

const PLUS = "path://M4.6 0H5.4V4.6H10V5.4H5.4V10H4.6V5.4H0V4.6H4.6Z";
const CONDENSE = 0.82;

function buildOption() {
  const grids: any[] = [], xAxis: any[] = [], yAxis: any[] = [], series: any[] = [], gfx: any[] = [], visualMap: any[] = [];
  const addGrid = (l: number, t: number, w: number, h: number, x: any, y: any, extra: any = {}) => {
    const i = grids.length;
    grids.push({ left: l, top: t, width: w, height: h, containLabel: false, ...extra });
    xAxis.push({ ...x, gridIndex: i });
    yAxis.push({ ...y, gridIndex: i });
    return i;
  };
  const text = (t: string, x: number, y: number, size: number, opts: any = {}) => {
    const { rotation, rich, scaleX, ...st } = opts;
    gfx.push({ type: "text", x, y, rotation: rotation || 0, scaleX: scaleX || 1, silent: true, style: { text: t, fontSize: size, fontFamily: SANS, fill: "#1a1a1a", textAlign: "center", verticalAlign: "middle", rich, ...st } });
  };
  const lineG = (x1: number, y1: number, x2: number, y2: number, stroke: string, lw: number) =>
    gfx.push({ type: "line", silent: true, shape: { x1, y1, x2, y2 }, style: { stroke, lineWidth: lw } });

  /* Panel letters */
  [["A",20,20],["B",984,20],["C",20,707],["D",977,919],["E",24,1702]].forEach(([t, x, y]: any) => text(t, x, y, 38));

  /* ---- A ---- */
  text("METABRIC", 484, 18, 32);
  text("Fraction", 17, 215, 28, { rotation: Math.PI / 2, scaleX: .8 });
  const ga = addGrid(78, 68, 910, 342.5,
    { type: "value", min: -1, max: 21.7, axisLine: { show: true, onZero: false, lineStyle: { color: "#111", width: 2.5 } }, axisTick: { show: false }, splitLine: { show: false },
      axisLabel: { customValues: cellTypes.map((_, i) => i), formatter: (v: number) => cellTypes[v] ?? "", rotate: 45, margin: 10, fontSize: 24.5, fontFamily: SANS, color: "#1a1a1a" } },
    { type: "value", min: 0, max: .8, interval: .2, axisLine: { show: true, onZero: false, lineStyle: { color: "#111", width: 2.5 } }, axisTick: { show: true, length: 8, lineStyle: { color: "#111", width: 2 } }, splitLine: { show: false },
      axisLabel: { formatter: (v: number) => v.toFixed(1), fontSize: 25, fontFamily: SANS, margin: 7, color: "#1a1a1a" } });
  const violin = (name: string, rows: number[][], off: number, col: string) => series.push({
    type: "custom", name, xAxisIndex: ga, yAxisIndex: ga, clip: false, itemStyle: { color: col }, encode: { x: 0, y: 1 },
    data: rows.map((r, i) => [i + off, ...r]),
    renderItem: (_: any, api: any) => {
      const x = api.value(0), top = api.value(1), taper = api.value(2), wid = api.value(3), w = api.value(4), med = api.value(5);
      const levels = [[0, w * .6], [wid, w], [wid + (taper - wid) * .5, w * .6], [taper, w * .14], [top, 0]];
      const pt = (v: number, d: number) => { const c = api.coord([x, v]); return [c[0] + d, c[1]]; };
      const left = levels.map(([v, d]) => pt(v, -d));
      const right = levels.slice(0, -1).reverse().map(([v, d]) => pt(v, d));
      const m = api.coord([x, med]);
      return { type: "group", children: [
        { type: "polygon", shape: { points: [...left, ...right] }, style: { fill: col, stroke: "#111", lineWidth: 1.1 } },
        { type: "circle", shape: { cx: m[0], cy: m[1], r: w < 4 ? 2.5 : 4.2 }, style: { fill: "#fff", stroke: "#eef", lineWidth: .5 } },
      ] };
    },
  });
  violin("Th2 high", violinHigh, -.167, "#E00000");
  violin("Th2 low", violinLow, .167, "#1414D8");
  series.push({
    type: "custom", xAxisIndex: ga, yAxisIndex: ga, clip: false, encode: { x: 0, y: 1 }, silent: true,
    data: violinHigh.map((r, i) => [i, Math.max(r[0], violinLow[i][0]), i >= 20 ? 1 : 0]).map((d) => (d[2] ? [d[0], .036, 1] : d)),
    renderItem: (_: any, api: any) => {
      const i = api.value(0), v = api.value(1), box = api.value(2);
      const a = api.coord([i - (box ? .17 : .08), v]), b = api.coord([i + (box ? .17 : .16), v]);
      const pts = box ? [api.coord([i - .17, .006]), a, b, api.coord([i + .17, .006])] : [a, b];
      return { type: "polyline", shape: { points: pts }, style: { stroke: "#555", lineWidth: 1.4, fill: null } };
    },
  });
  series.push({
    type: "custom", xAxisIndex: ga, yAxisIndex: ga, clip: false, silent: true, encode: { x: 0, y: 1 },
    data: pLabels.map((p) => [p[0], p[1], p[3]]),
    renderItem: (params: any, api: any) => {
      const c = api.coord([api.value(0), api.value(1)]);
      const col = api.value(2) ? "#E00000" : "#1a1a1a";
      return { type: "text", x: c[0], y: c[1], scaleX: CONDENSE, style: { text: `{i|p}{t|${pLabels[params.dataIndex][2]}}`, textAlign: "center", verticalAlign: "middle", fontSize: 19, fontFamily: SANS, fill: col,
        rich: { i: { fontStyle: "italic", fontSize: 19, fontFamily: SANS, fill: col }, t: { fontSize: 19, fontFamily: SANS, fill: col } } } };
    },
  });

  /* ---- B ---- */
  text("METABRIC", 1602, 18, 32);
  text("Th2 low", 1457, 51, 28);
  text("Th2 high", 1742, 51, 28);
  text("group", 1311.6, 95, 28, { textAlign: "right", scaleX: CONDENSE });
  const gGroup = addGrid(1323, 76, 553, 32,
    { type: "value", min: 0, max: groupSizes[0] + groupSizes[1], show: false },
    { type: "category", data: ["group"], show: false });
  ["#00DAE4", "#F4E4E7"].forEach((c, i) => series.push({ type: "bar", stack: "g", xAxisIndex: gGroup, yAxisIndex: gGroup, data: [groupSizes[i]], barWidth: "100%", itemStyle: { color: c }, silent: true }));
  const colN = groupSizes[0] + groupSizes[1];
  const gHeat = addGrid(1323, 120, 553, 719,
    { type: "category", data: Array.from({ length: colN }, (_, i) => i), show: false },
    { type: "category", inverse: true, data: signatures, show: false });
  const heatIdx = series.length;
  const heatData: number[][] = [];
  zRows.forEach((row, i) => { for (let j = 0; j < colN; j++) heatData.push([j, i, (row[j] ?? 0) / 3]); });
  series.push({ type: "heatmap", xAxisIndex: gHeat, yAxisIndex: gHeat, data: heatData, silent: true, progressive: 0 });
  signatures.forEach((s, i) => text(s, 1311.6, signatureLabelY[i], 28, { textAlign: "right", scaleX: CONDENSE }));
  visualMap.push({ type: "continuous", seriesIndex: heatIdx, dimension: 2, min: -6.4, max: 6.4, left: 1887, top: 161, itemWidth: 21, itemHeight: 306, padding: 0, calculable: false, hoverLink: false, text: null, inRange: { color: ["#0B2AA2", "#7E93CF", "#F5F3F8", "#D98FA3", "#7B0A2C"] } });
  text("Z score", 1885, 134, 26, { textAlign: "left", scaleX: .84 });
  [["6", 171], ["0", 317], [`${M}6`, 458]].forEach(([t, y]: any) => text(t, 1912, y, 24, { textAlign: "left" }));

  /* ---- C ---- */
  lineG(53, 702, 53, 1580, "#222", 2);
  lineG(69, 1617, 943, 1617, "#222", 2);
  text("Th2", 27, 1131, 30, { rotation: Math.PI / 2 });
  text("CTL", 528, 1638, 30);
  scatterPanels.forEach((s) => {
    const [l, t, r, b] = s.frame;
    const lab = (list: [number, string][]) => (v: number) => (list.find((e) => Math.abs(e[0] - v) < 1e-6) || [0, ""])[1];
    const tick = { show: true, length: 6, lineStyle: { color: "#333", width: 1.2 } };
    const g = addGrid(l, t, r - l, b - t,
      { type: "value", min: s.xr[0], max: s.xr[1], axisLine: { show: false, onZero: false }, splitLine: { show: false }, axisTick: { ...tick, customValues: s.xTicks },
        axisLabel: { customValues: s.xLabs.map((e) => e[0]), formatter: lab(s.xLabs), fontSize: s.xFont, fontFamily: SANS, margin: 10, color: "#1a1a1a", showMinLabel: true, showMaxLabel: true } },
      { type: "value", min: s.yr[0], max: s.yr[1], axisLine: { show: false, onZero: false }, splitLine: { show: false }, axisTick: { ...tick, customValues: s.yTicks },
        axisLabel: { customValues: s.yLabs.map((e) => e[0]), formatter: lab(s.yLabs), rotate: 90, fontSize: s.yFont, fontFamily: SANS, margin: 9, color: "#1a1a1a", showMinLabel: true, showMaxLabel: true } },
      { show: true, borderColor: "#3b3330", borderWidth: 2 });
    const pts: number[][] = [];
    for (let i = 0; i + 1 < s.pts.length; i += 2) pts.push([s.pts[i], s.pts[i + 1]]);
    series.push({ type: "scatter", xAxisIndex: g, yAxisIndex: g, symbolSize: s.dot, itemStyle: { color: "#3A9BF4", opacity: 1 }, data: pts, silent: true, large: false });
    series.push({ type: "line", xAxisIndex: g, yAxisIndex: g, showSymbol: false, silent: true, lineStyle: { color: "#111", width: 2, type: [9, 13] }, data: [[s.line[0], s.line[1]], [s.line[2], s.line[3]]] });
    text(s.title, s.tx, s.ty, 28);
    text(`r= ${s.r}`, s.ax, s.ay, 20, { textAlign: "left" });
    text(`{i|p}{n|= ${s.p}}`, s.ax, s.ay + 25, 20, { textAlign: "left", rich: { i: { fontStyle: "italic", fontSize: 20, fontFamily: SANS, fill: "#1a1a1a" }, n: { fontSize: 20, fontFamily: SANS, fill: "#1a1a1a" } } });
  });

  /* ---- D ---- */
  text("METABRIC", 1508, 889, 32);
  const gd = addGrid(1069, 1033, 763, 763,
    { type: "category", position: "top", data: genes, axisLine: { show: false }, axisTick: { show: false }, axisLabel: { interval: 0, rotate: 90, fontSize: 27, fontFamily: SANS, margin: 10, color: "#1a1a1a" } },
    { type: "category", inverse: true, data: genes, show: false });
  const cells: number[][] = [], circles: number[][] = [], rowLab: number[][] = [];
  corrRows.forEach((row, i) => {
    rowLab.push([i, i]);
    row.forEach((v, k) => { cells.push([i + k, i]); circles.push([i + k, i, v]); });
  });
  series.push({ type: "custom", xAxisIndex: gd, yAxisIndex: gd, encode: { x: 0, y: 1 }, data: cells, silent: true,
    renderItem: (_: any, api: any) => {
      const c = api.coord([api.value(0), api.value(1)]), s = api.size([1, 1]);
      return { type: "rect", shape: { x: c[0] - s[0] / 2, y: c[1] - s[1] / 2, width: s[0], height: s[1] }, style: { fill: "#fff", stroke: "#BDBDBD", lineWidth: 1.6 } };
    } });
  const sizeStops = [[0,2],[.02,4],[.1,7],[.25,14],[.45,18],[.65,23],[.85,25.5],[.88,41],[.93,42],[1,44.6]];
  const sizeOf = (v: number) => {
    const a = Math.abs(v);
    for (let i = 1; i < sizeStops.length; i++) if (a <= sizeStops[i][0]) {
      const [x0, y0] = sizeStops[i - 1], [x1, y1] = sizeStops[i];
      return y0 + ((a - x0) / (x1 - x0)) * (y1 - y0);
    }
    return 44.6;
  };
  const circIdx = series.length;
  series.push({ type: "scatter", xAxisIndex: gd, yAxisIndex: gd, data: circles, silent: true, symbolSize: (d: number[]) => sizeOf(d[2]), itemStyle: { opacity: 1 } });
  series.push({ type: "scatter", xAxisIndex: gd, yAxisIndex: gd, data: rowLab, silent: true, symbolSize: 47.7, itemStyle: { color: "transparent", opacity: 1 },
    label: { show: true, position: "left", distance: 8, offset: [0, 2], formatter: (p: any) => genes[p.value[1]], fontSize: 27, fontFamily: SANS, color: "#1a1a1a" } });
  visualMap.push({ type: "continuous", seriesIndex: circIdx, dimension: 2, min: -1, max: 1, left: 1846.6, top: 1033, itemWidth: 28, itemHeight: 762, padding: 0, calculable: false, hoverLink: false, text: null, inRange: { color: ["#00A088", "#FFFFFF", "#DD0000"] } });
  text("Expression", 1847, 1003, 25, { textAlign: "left", scaleX: .84 });
  const barLabelY = [1044,1112,1188,1264,1341,1408,1492,1568,1645,1721,1790];
  corrBarTicks.forEach((v, i) => {
    const y = 1033 + ((1 - v) / 2) * 762;
    if (Math.abs(v) < 1) lineG(1874.6, y, 1880, y, "#444", 1.2);
    text(v === 0 ? "0" : (v < 0 ? M : "") + (Math.abs(v) === 1 ? "1" : Math.abs(v).toFixed(1)), 1887, barLabelY[i], 24, { textAlign: "left" });
  });

  /* ---- E ---- */
  text("METABRIC", 493, 1702, 32);
  const italic = { i: { fontStyle: "italic", fontSize: 32, fontFamily: SANS, fill: "#1a1a1a" }, n: { fontSize: 32, fontFamily: SANS, fill: "#1a1a1a" } };
  text("{n|Continuous }{i|z}{n|= 2.07 , }{i|p}{n|= 0.038}", 493, 1742, 32, { rich: italic });
  const km = (l: number, xMax: number, xLabels: number[], top: number[][], bot: number[][], topC: number[][], botC: number[][], title: string, tx: number, lx: number, nTxt: string, sfx: number, osx: number) => {
    const tick = { show: true, length: 7, lineStyle: { color: "#222", width: 1.2 } };
    const g = addGrid(l, 1797, 365, 358,
      { type: "value", min: 0, max: xMax, axisLine: { show: false, onZero: false }, splitLine: { show: false }, axisTick: { ...tick, customValues: [0,50,100,150,200,250,300] },
        axisLabel: { customValues: xLabels, fontSize: 24, fontFamily: SANS, margin: 11, color: "#1a1a1a" } },
      { type: "value", min: -.041, max: 1.041, axisLine: { show: false, onZero: false }, splitLine: { show: false }, axisTick: { ...tick, customValues: [0,.2,.4,.6,.8,1] },
        axisLabel: { customValues: [0,.2,.4,.6,.8,1], formatter: (v: number) => v.toFixed(1), rotate: 90, fontSize: 24, fontFamily: SANS, margin: 10, color: "#1a1a1a" } },
      { show: true, borderColor: "#111", borderWidth: 2 });
    const red = "#E8141C", blue = "#2020E8";
    series.push({ type: "line", xAxisIndex: g, yAxisIndex: g, step: "end", showSymbol: false, silent: true, data: bot, lineStyle: { color: blue, width: 2, type: [7, 6] }, z: 3 });
    series.push({ type: "line", xAxisIndex: g, yAxisIndex: g, step: "end", showSymbol: false, silent: true, data: top, lineStyle: { color: red, width: 2 }, z: 4 });
    series.push({ type: "scatter", xAxisIndex: g, yAxisIndex: g, symbol: PLUS, symbolSize: 13, silent: true, data: botC, itemStyle: { color: blue, opacity: 1 }, z: 5 });
    series.push({ type: "scatter", xAxisIndex: g, yAxisIndex: g, symbol: PLUS, symbolSize: 13, silent: true, data: topC, itemStyle: { color: red, opacity: 1 }, z: 5 });
    text(title, tx, 1776, 28);
    text("Survival Fraction", sfx, 1957, 28, { rotation: Math.PI / 2 });
    text("OS (month)", osx, 2216, 28);
    text(`CTL Top (n=${nTxt})`, lx, 2102, 22.5, { textAlign: "left", fill: red });
    text(`CTL Bottom (n=${nTxt})`, lx, 2129, 22.5, { textAlign: "left", fill: blue });
  };
  km(108, 350, [0,50,100,200,300], kmHighTop, kmHighBottom, kmHighTopCens, kmHighBottomCens, "Th2 high", 285, 149, "13", 55, 293);
  km(551, 320, [0,50,100,150,200,250,300], kmLowTop, kmLowBottom, kmLowTopCens, kmLowBottomCens, "Th2 low", 726, 592, "103", 499, 736);

  return {
    animation: false,
    backgroundColor: "#fff",
    grid: grids, xAxis, yAxis, series, visualMap,
    graphic: { elements: gfx },
    legend: { orient: "vertical", left: 106, top: 44, itemWidth: 31, itemHeight: 8, itemGap: 5, padding: 0, selectedMode: false,
      data: [{ name: "Th2 high", icon: "rect", itemStyle: { color: "#F00000" } }, { name: "Th2 low", icon: "rect", itemStyle: { color: "#1D4BA8" } }],
      textStyle: { fontSize: 28.5, fontFamily: SANS, color: "#1a1a1a", padding: [0, 0, 0, 9] } },
    tooltip: { show: false },
  };
}

export default function App() {
  const ref = useRef<HTMLDivElement>(null);
  useEffect(() => {
    document.body.style.margin = "0";
    const chart = echarts.init(ref.current!, null, { renderer: "svg" });
    chart.setOption(buildOption() as any);
    return () => chart.dispose();
  }, []);
  return <div ref={ref} style={{ width: 1959, height: 2234 }} />;
}
